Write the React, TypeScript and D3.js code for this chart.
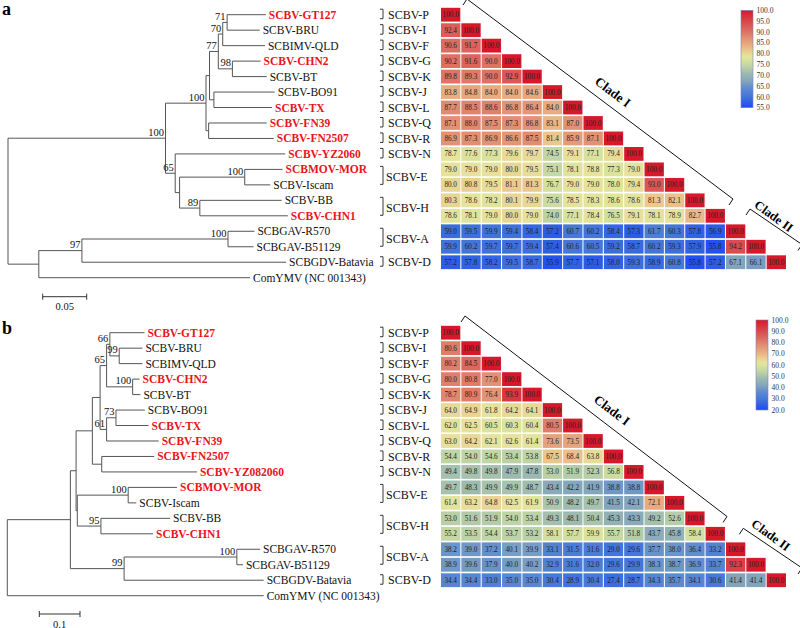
import React from 'react';
import * as d3 from 'd3';

const FONT = "'Liberation Serif', 'Times New Roman', Times, serif";

// trees in Newick, branch lengths
const treeA =
  "(((((((SCBV-GT127:0.044,SCBV-BRU:0.037)71:0.005,SCBIMV-QLD:0.048)70:0.005,(SCBV-CHN2:0.032,SCBV-BT:0.039)98:0.016)77:0.010," +
  "(SCBV-BO91:0.069,SCBV-TX:0.066):0.005):0.004,(SCBV-FN39:0.066,SCBV-FN2507:0.074):0.003)100:0.046," +
  "(SCBV-YZ2060:0.125,((SCBMOV-MOR:0.043,SCBV-Iscam:0.029)100:0.074,(SCBV-BB:0.093,SCBV-CHN1:0.100)89:0.023):0.005)65:0.011)100:0.179," +
  "(((SCBGAV-R570:0.030,SCBGAV-B51129:0.029)100:0.166,SCBGDV-Batavia:0.232)97:0.049,'ComYMV (NC 001343)':0.240):0.035);";

const treeB =
  "(((((((SCBV-GT127:0.085,(SCBV-BRU:0.057,SCBIMV-QLD:0.057)99:0.023)66:0.008,(SCBV-CHN2:0.017,SCBV-BT:0.019)100:0.064)65:0.016," +
  "((SCBV-BO91:0.071,SCBV-TX:0.080)73:0.023,SCBV-FN39:0.128)61:0.016):0.019,(SCBV-FN2507:0.129,SCBV-YZ082060:0.234):0.023):0.040," +
  "((SCBMOV-MOR:0.120,SCBV-Iscam:0.020)100:0.125,(SCBV-BB:0.170,SCBV-CHN1:0.128)95:0.058):0.003):0.014," +
  "((SCBGAV-R570:0.057,SCBGAV-B51129:0.015)100:0.277,SCBGDV-Batavia:0.343)99:0.132):0.155,'ComYMV (NC 001343)':0.630);";

const redLeaves = ['SCBV-GT127', 'SCBV-CHN2', 'SCBV-TX', 'SCBV-FN39', 'SCBV-FN2507', 'SCBV-YZ2060', 'SCBV-YZ082060', 'SCBMOV-MOR', 'SCBV-CHN1'];

// species label, first row, last row
const groups: [string, number, number][] = [
  ['SCBV-P', 0, 0], ['SCBV-I', 1, 1], ['SCBV-F', 2, 2], ['SCBV-G', 3, 3], ['SCBV-K', 4, 4],
  ['SCBV-J', 5, 5], ['SCBV-L', 6, 6], ['SCBV-Q', 7, 7], ['SCBV-R', 8, 8], ['SCBV-N', 9, 9],
  ['SCBV-E', 10, 11], ['SCBV-H', 12, 13], ['SCBV-A', 14, 15], ['SCBV-D', 16, 16],
];

const identityA = [
  [100.0],
  [92.4, 100.0],
  [90.6, 91.7, 100.0],
  [90.2, 91.6, 90.0, 100.0],
  [89.8, 89.3, 90.0, 92.9, 100.0],
  [83.8, 84.8, 84.0, 84.0, 84.6, 100.0],
  [87.7, 88.5, 88.6, 86.8, 86.4, 84.0, 100.0],
  [87.1, 88.0, 87.5, 87.3, 86.8, 83.1, 87.0, 100.0],
  [86.9, 87.3, 86.9, 86.6, 87.5, 81.4, 85.9, 87.1, 100.0],
  [78.7, 77.6, 77.3, 79.6, 79.7, 74.5, 79.1, 77.1, 79.4, 100.0],
  [79.0, 79.0, 79.0, 80.0, 79.5, 75.1, 78.1, 78.8, 77.3, 79.0, 100.0],
  [80.0, 80.8, 79.5, 81.1, 81.3, 76.7, 79.0, 79.0, 78.0, 79.4, 93.0, 100.0],
  [80.3, 78.6, 78.2, 80.1, 79.9, 75.6, 78.5, 78.3, 78.6, 78.6, 81.3, 82.1, 100.0],
  [78.6, 78.1, 79.0, 80.0, 79.0, 74.0, 77.1, 78.4, 76.5, 79.1, 78.1, 78.9, 82.7, 100.0],
  [59.0, 59.5, 59.9, 59.4, 58.4, 57.2, 60.7, 60.2, 58.4, 57.3, 61.7, 60.3, 57.8, 56.9, 100.0],
  [59.9, 60.2, 59.7, 59.7, 59.4, 57.4, 60.6, 60.5, 59.2, 58.7, 60.2, 59.3, 57.9, 55.8, 94.2, 100.0],
  [57.2, 57.8, 58.2, 59.5, 58.7, 55.9, 57.7, 57.1, 58.0, 59.3, 58.9, 60.8, 55.8, 57.2, 67.1, 66.1, 100.0],
];

const identityB = [
  [100.0],
  [80.6, 100.0],
  [80.2, 84.5, 100.0],
  [80.0, 80.8, 77.0, 100.0],
  [78.7, 80.9, 76.4, 93.9, 100.0],
  [64.0, 64.9, 61.8, 64.2, 64.1, 100.0],
  [62.0, 62.5, 60.5, 60.3, 60.4, 80.5, 100.0],
  [63.0, 64.2, 62.1, 62.6, 61.4, 73.6, 73.5, 100.0],
  [54.4, 54.0, 54.6, 53.4, 53.8, 67.5, 68.4, 63.8, 100.0],
  [49.4, 49.8, 49.8, 47.9, 47.8, 53.0, 51.9, 52.3, 56.8, 100.0],
  [49.7, 48.3, 49.9, 49.9, 48.7, 43.4, 42.2, 41.9, 38.8, 38.8, 100.0],
  [61.4, 63.2, 64.8, 62.5, 61.9, 50.9, 48.2, 49.7, 41.5, 42.1, 72.1, 100.0],
  [53.0, 51.6, 51.9, 54.0, 53.4, 49.3, 48.1, 50.4, 45.3, 43.3, 49.2, 52.6, 100.0],
  [55.2, 53.5, 54.4, 53.7, 53.2, 58.1, 57.7, 59.9, 55.7, 51.8, 43.7, 45.8, 58.4, 100.0],
  [38.2, 39.0, 37.2, 40.1, 39.9, 33.1, 31.5, 31.6, 29.0, 29.6, 37.7, 38.0, 36.4, 33.2, 100.0],
  [38.9, 39.6, 37.9, 40.0, 40.2, 32.9, 31.6, 32.0, 29.6, 29.9, 38.3, 38.7, 36.9, 33.7, 92.3, 100.0],
  [34.4, 34.4, 33.0, 35.0, 35.0, 30.4, 28.9, 30.4, 27.4, 28.7, 34.3, 35.7, 34.1, 30.6, 41.4, 41.4, 100.0],
];

const domainA: [number, number] = [55, 100];
const domainB: [number, number] = [20, 100];
const legendTicksA = [100, 95, 90, 85, 80, 75, 70, 65, 60, 55];
const legendTicksB = [100, 90, 80, 70, 60, 50, 40, 30, 20];

// colour ramp: position in domain -> colour
const ramp: [number, string][] = [
  [0, '#1d4af5'], [0.05, '#2d5de6'], [0.11, '#4273da'], [0.2, '#5e8ad0'], [0.27, '#82a5bc'],
  [0.35, '#9cb9b0'], [0.42, '#bcd3a6'], [0.49, '#d8e29e'], [0.53, '#e6e39c'], [0.585, '#ebc890'],
  [0.645, '#e8ac82'], [0.73, '#e08a70'], [0.78, '#dc7264'], [0.83, '#da5d5a'], [1, '#d6182b'],
];

type TNode = { name?: string; support?: string; len: number; children?: TNode[] };

function parseNewick(s: string): TNode {
  let i = 0;
  const readLabel = () => {
    if (s[i] === "'") {
      const j = s.indexOf("'", i + 1);
      const t = s.slice(i + 1, j);
      i = j + 1;
      return t;
    }
    let t = '';
    while (i < s.length && !',():;'.includes(s[i])) t += s[i++];
    return t;
  };
  const node = (): TNode => {
    const n: TNode = { len: 0 };
    if (s[i] === '(') {
      n.children = [];
      i++;
      n.children.push(node());
      while (s[i] === ',') { i++; n.children.push(node()); }
      i++;
    }
    const label = readLabel();
    if (n.children) { if (label) n.support = label; } else n.name = label;
    if (s[i] === ':') { i++; n.len = parseFloat(readLabel()); }
    return n;
  };
  return node();
}

const Panel = ({ id, letter, newick, matrix, domain, legendTicks, L }: any) => {
  const root: any = d3.hierarchy(parseNewick(newick));
  const leaves = root.leaves();
  const rowY = d3.scaleLinear().domain([0, leaves.length - 1]).range([L.top, L.top + (leaves.length - 1) * 15.47]);
  const xTree = d3.scaleLinear().domain([0, 1]).range([L.x0, L.x0 + L.ppu]);
  root.eachBefore((n: any) => { n.dist = n.parent ? n.parent.dist + n.data.len : 0; });
  leaves.forEach((l: any, i: number) => { l.yy = rowY(i); });
  root.eachAfter((n: any) => {
    if (n.children) n.yy = (n.children[0].yy + n.children[n.children.length - 1].yy) / 2;
  });
  const nodes = root.descendants();

  const n = matrix.length;
  const xb = d3.scaleBand<number>().domain(d3.range(n)).range([441, 786]).paddingInner(0.05);
  const cellH = 13.8;
  const color = d3.scaleLinear<string>()
    .domain(ramp.map(r => domain[0] + r[0] * (domain[1] - domain[0])))
    .range(ramp.map(r => r[1]))
    .interpolate(d3.interpolateRgb)
    .clamp(true);
  const legY = d3.scaleLinear().domain(domain).range([L.leg.bottom, L.leg.top]);
  const fmt = d3.format('.1f');
  const bx = 383;

  const bracket = (c: any, key: string) => {
    const [x0, y0] = c.start;
    const [x1, y1] = c.end;
    const ang = (Math.atan2(y1 - y0, x1 - x0) * 180) / Math.PI;
    return (
      <g key={key}>
        <path d={`M${x0 - 4},${y0 + 6}L${x0},${y0}L${x1},${y1}L${x1 - 4},${y1 + 6}`} fill="none" stroke="#111" strokeWidth={1} />
        <text x={c.label[0]} y={c.label[1]} dy="0.35em" textAnchor="middle" fontSize={c.size ?? 13} fontWeight="bold"
          transform={`rotate(${c.angle ?? ang},${c.label[0]},${c.label[1]})`}>{c.text}</text>
      </g>
    );
  };

  return (
    <g>
      <text x={2} y={L.letterY} fontSize={18} fontWeight="bold">{letter}</text>

      {nodes.filter((d: any) => d.parent).map((d: any, i: number) => (
        <line key={'h' + i} x1={xTree(d.parent.dist)} x2={xTree(d.dist)} y1={d.yy} y2={d.yy} stroke="#555" strokeWidth={1} />
      ))}
      {nodes.filter((d: any) => d.children).map((d: any, i: number) => (
        <line key={'v' + i} x1={xTree(d.dist)} x2={xTree(d.dist)} y1={d.children[0].yy}
          y2={d.children[d.children.length - 1].yy} stroke="#555" strokeWidth={1} />
      ))}
      {nodes.filter((d: any) => d.data.support).map((d: any, i: number) => (
        <text key={'s' + i} x={xTree(d.dist) - 1.5} y={d.yy - 2.5} textAnchor="end" fontSize={10.5} fill="#111">{d.data.support}</text>
      ))}
      {leaves.map((d: any, i: number) => {
        const red = redLeaves.includes(d.data.name);
        return (
          <text key={'l' + i} x={xTree(d.dist) + 3} y={d.yy} dy="0.35em" fontSize={11.5}
            fill={red ? '#e8141c' : '#111'} fontWeight={red ? 'bold' : 'normal'}>{d.data.name}</text>
        );
      })}

      {groups.map(([g, r0, r1]) => {
        const single = r0 === r1;
        const y0 = rowY(r0) - (single ? 5.5 : 3);
        const y1 = rowY(r1) + (single ? 4 : -0.5);
        return (
          <g key={g}>
            <path d={`M${bx - 3},${y0}H${bx}V${y1}H${bx - 3}`} fill="none" stroke="#222" strokeWidth={0.9} />
            <text x={bx + (single ? 5 : 3)} y={(rowY(r0) + rowY(r1)) / 2} dy="0.35em" fontSize={12} fill="#111">{g}</text>
          </g>
        );
      })}

      {matrix.map((row: number[], r: number) => row.map((v, c) => (
        <g key={`c${r}-${c}`}>
          <rect x={xb(c)} y={rowY(r) - cellH / 2} width={xb.bandwidth()} height={cellH} fill={color(v)} />
          <text x={(xb(c) as number) + xb.bandwidth() / 2} y={rowY(r)} dy="0.35em" textAnchor="middle"
            fontSize={7.2} fill="#222">{fmt(v)}</text>
        </g>
      )))}

      {bracket({ ...L.cladeI, text: 'Clade I' }, 'c1')}
      {bracket({ ...L.cladeII, text: 'Clade II' }, 'c2')}

      <defs>
        <linearGradient id={id} x1="0" y1="1" x2="0" y2="0">
          {ramp.map(([t, col]) => <stop key={t} offset={t} stopColor={col} />)}
        </linearGradient>
      </defs>
      <rect x={L.leg.x} y={L.leg.top} width={12} height={L.leg.bottom - L.leg.top} fill={`url(#${id})`}
        stroke="#7d86b8" strokeWidth={0.6} />
      {legendTicks.map((t: number) => (
        <text key={t} x={L.leg.x + 15.5} y={legY(t)} dy="0.35em" fontSize={7.5} fill="#333">{fmt(t)}</text>
      ))}

      <path d={`M${L.bar.x},${L.bar.y - 3}V${L.bar.y + 3}M${L.bar.x},${L.bar.y}H${L.bar.x + xTree(L.bar.v) - xTree(0)}` +
        `M${L.bar.x + xTree(L.bar.v) - xTree(0)},${L.bar.y - 3}V${L.bar.y + 3}`} fill="none" stroke="#333" strokeWidth={1} />
      <text x={L.bar.x + (xTree(L.bar.v) - xTree(0)) / 2} y={L.bar.y + 13.5} textAnchor="middle" fontSize={10.5} fill="#111">{L.bar.label}</text>
    </g>
  );
};

const layoutA = {
  top: 14.7, x0: 8, ppu: 880, letterY: 15,
  leg: { x: 741, top: 10.3, bottom: 107.7 },
  bar: { x: 42.7, y: 296.7, v: 0.05, label: '0.05' },
  cladeI: { start: [467, -1], end: [733, 199], label: [613, 92] },
  cladeII: { start: [750, 209], end: [802, 244.5], label: [774, 216], angle: 36, size: 12.5 },
};

const layoutB = {
  top: 332.7, x0: 7.3, ppu: 407, letterY: 334,
  leg: { x: 756, top: 320, bottom: 410 },
  bar: { x: 39.3, y: 614, v: 0.1, label: '0.1' },
  cladeI: { start: [465, 316], end: [727, 516.5], label: [612, 410] },
  cladeII: { start: [743.3, 528.3], end: [802, 568], label: [771, 535], angle: 36, size: 12.5 },
};

export default function App() {
  return (
    <svg width={800} height={628} style={{ position: 'absolute', left: 0, top: 0, display: 'block' }} fontFamily={FONT}>
      <rect width={800} height={628} fill="#fff" />
      <Panel id="gradA" letter="a" newick={treeA} matrix={identityA} domain={domainA} legendTicks={legendTicksA} L={layoutA} />
      <Panel id="gradB" letter="b" newick={treeB} matrix={identityB} domain={domainB} legendTicks={legendTicksB} L={layoutB} />
    </svg>
  );
}
